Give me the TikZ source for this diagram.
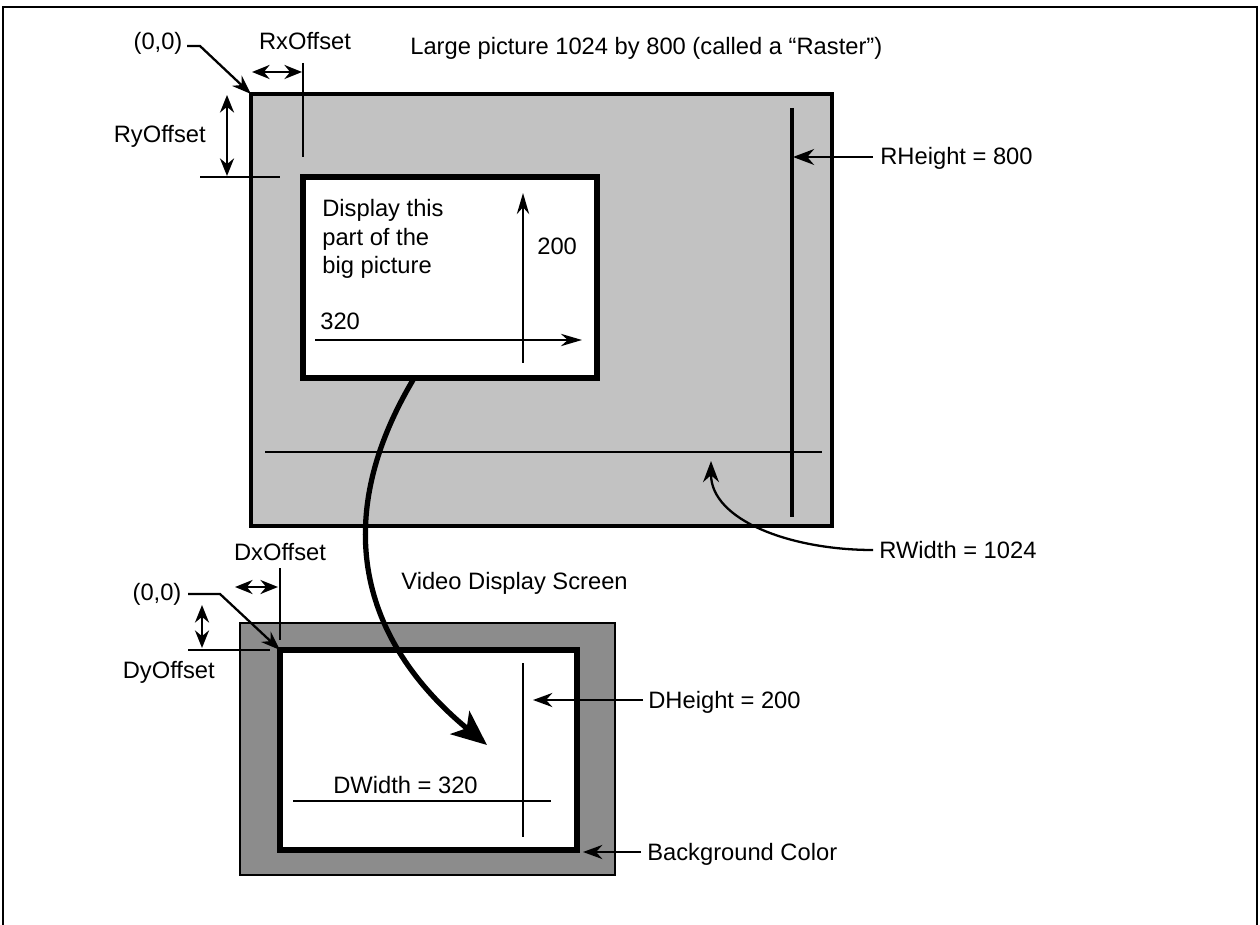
\documentclass[tikz,border=0pt]{standalone}
\usepackage{fontspec}
\setmainfont{Liberation Sans}
\usetikzlibrary{arrows.meta}

\tikzset{
    lbl/.style={inner sep=0pt,font=\fontsize{13.5}{16}\selectfont},
    dimarrow/.style={line width=1.3pt,{Stealth[length=10pt,width=8pt]}-{Stealth[length=10pt,width=8pt]}},
    ptr/.style={line width=1.3pt,-{Stealth[length=11pt,width=8pt]}},
    tick/.style={line width=1.2pt},
}

\begin{document}
\begin{tikzpicture}[x=0.02cm,y=-0.02cm]
    \useasboundingbox (0,0) rectangle (1260,925);

    % outer frame
    \coordinate (FL) at (3,925);
    \coordinate (FTL) at (3,7);
    \coordinate (FTR) at (1257,7);
    \coordinate (FR) at (1257,925);
    \draw[line width=1.5pt] (FL) -- (FTL) -- (FTR) -- (FR);

    % the raster and the part shown
    \coordinate (R1) at (251,94);
    \coordinate (R2) at (832,526);
    \coordinate (P1) at (303,177);
    \coordinate (P2) at (597,378);
    \draw[line width=1.8pt,fill=black!24] (R1) rectangle (R2);
    \draw[line width=3pt,fill=white] (P1) rectangle (P2);

    % the screen
    \coordinate (S1) at (240,623);
    \coordinate (S2) at (615,875);
    \coordinate (D1) at (280,650);
    \coordinate (D2) at (577,850);
    \draw[line width=1.3pt,fill=black!45] (S1) rectangle (S2);
    \draw[line width=3.8pt,fill=white] (D1) rectangle (D2);

    \node[lbl] (orgR) at (158,50) [anchor=base] {(0,0)};
    \node[lbl] (rxlbl) at (305,50) [anchor=base] {RxOffset};
    \node[lbl,anchor=base west] (title) at (410,55) {Large picture 1024 by 800 (called a ``Raster'')};
    \node[lbl,anchor=base east] (rylbl) at (206,143) {RyOffset};
    \node[lbl,anchor=base west] (rhlbl) at (880,165) {RHeight = 800};
    \node[lbl,anchor=base west] (rwlbl) at (879,558) {RWidth = 1024};
    \node[lbl,anchor=base west] (txtA) at (322,217) {Display this};
    \node[lbl,anchor=base west] (txtB) at (322,246) {part of the};
    \node[lbl,anchor=base west] (txtC) at (322,274) {big picture};
    \node[lbl,anchor=base west] (hlbl) at (537,255) {200};
    \node[lbl,anchor=base west] (wlbl) at (320,330) {320};

    \node[lbl] (dxlbl) at (280,560) [anchor=base] {DxOffset};
    \node[lbl,anchor=base west] (vlbl) at (401,589) {Video Display Screen};
    \node[lbl] (orgD) at (157,600) [anchor=base] {(0,0)};
    \node[lbl,anchor=base east] (dylbl) at (215,678) {DyOffset};
    \node[lbl,anchor=base west] (dhlbl) at (648,708) {DHeight = 200};
    \node[lbl,anchor=base west] (dwlbl) at (333,793) {DWidth = 320};
    \node[lbl,anchor=base west] (bglbl) at (647,860) {Background Color};

    % raster offsets
    \coordinate (oR1) at (187,46);
    \coordinate (oR2) at (200,46);
    \draw[ptr] (oR1) -- (oR2) -- (R1);
    \coordinate (rxA) at (252,72);
    \coordinate (rxB) at (302,72);
    \coordinate (rxT) at (303,63);
    \coordinate (rxE) at (303,157);
    \draw[dimarrow] (rxA) -- (rxB);
    \draw[tick] (rxT) -- (rxE);
    \coordinate (ryA) at (227,95);
    \coordinate (ryB) at (227,176);
    \coordinate (ryT) at (200,177);
    \coordinate (ryE) at (280,177);
    \draw[dimarrow] (ryA) -- (ryB);
    \draw[tick] (ryT) -- (ryE);

    % raster size
    \coordinate (rhT) at (792,108);
    \coordinate (rhB) at (792,517);
    \coordinate (rhS) at (873,157);
    \coordinate (rhE) at (793,157);
    \coordinate (rwL) at (265,452);
    \coordinate (rwR) at (822,452);
    \coordinate (rwS) at (873,550);
    \coordinate (rwE) at (711,461);
    \draw[line width=1.8pt] (rhT) -- (rhB);
    \draw[line width=1pt] (rwL) -- (rwR);
    \draw[ptr,-{Stealth[length=12pt,width=9pt]}] (rhS) -- (rhE);
    \draw[ptr,-{Stealth[length=12pt,width=9pt]}] (rwS) .. controls (790,550) and (711,520) .. (rwE);

    % size of the part shown
    \coordinate (phS) at (523,363);
    \coordinate (phE) at (523,193);
    \coordinate (pwS) at (315,340);
    \coordinate (pwE) at (582,340);
    \draw[ptr,-{Stealth[length=12pt,width=7pt]}] (phS) -- (phE);
    \draw[ptr,-{Stealth[length=12pt,width=7pt]}] (pwS) -- (pwE);

    % copied to the screen
    \coordinate (bigS) at (413,380);
    \coordinate (bigE) at (487,745);
    \draw[line width=3pt,-{Stealth[length=20pt,width=17pt,inset=5pt]}] (bigS) .. controls (330,520) and (360,640) .. (bigE);

    % screen offsets
    \coordinate (oD1) at (188,594);
    \coordinate (oD2) at (220,594);
    \draw[ptr] (oD1) -- (oD2) -- (D1);
    \coordinate (dxA) at (235,587);
    \coordinate (dxB) at (278,587);
    \coordinate (dxT) at (280,568);
    \coordinate (dxE) at (280,640);
    \draw[dimarrow] (dxA) -- (dxB);
    \draw[tick] (dxT) -- (dxE);
    \coordinate (dyA) at (202,605);
    \coordinate (dyB) at (202,648);
    \coordinate (dyT) at (188,650);
    \coordinate (dyE) at (270,650);
    \draw[dimarrow] (dyA) -- (dyB);
    \draw[tick] (dyT) -- (dyE);

    % screen size
    \coordinate (dhT) at (523,663);
    \coordinate (dhB) at (523,837);
    \coordinate (dhS) at (643,700);
    \coordinate (dhE) at (533,700);
    \coordinate (dwL) at (293,801);
    \coordinate (dwR) at (551,801);
    \draw[line width=1pt] (dhT) -- (dhB);
    \draw[line width=1pt] (dwL) -- (dwR);
    \draw[ptr] (dhS) -- (dhE);
    \coordinate (bgS) at (641,852);
    \coordinate (bgE) at (583,852);
    \draw[ptr] (bgS) -- (bgE);
\end{tikzpicture}
\end{document}
